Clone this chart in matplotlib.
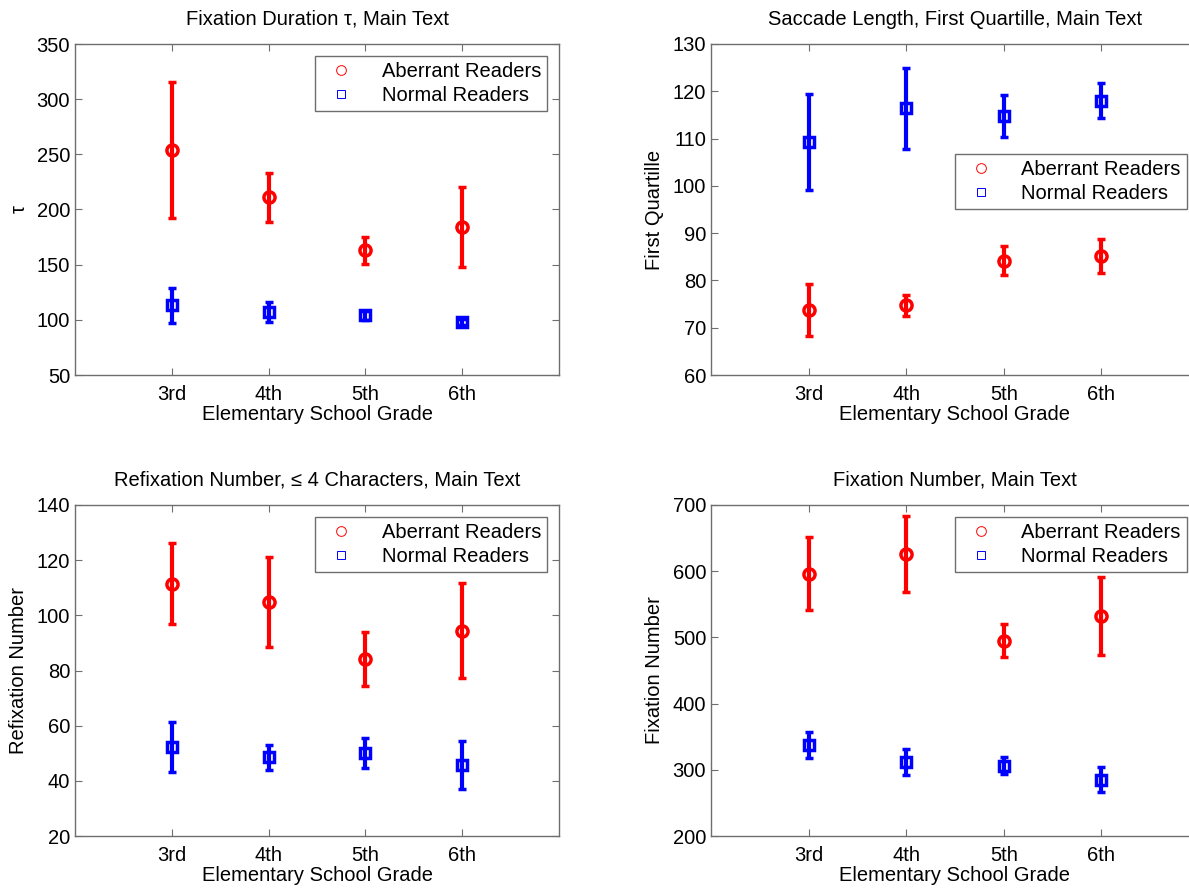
import numpy as np
import matplotlib
matplotlib.use("Agg")
import matplotlib.pyplot as plt
from matplotlib.lines import Line2D

plt.rcParams["font.family"] = ["Liberation Sans", "DejaVu Sans"]

# Data (mean, half-length of error bar)
GRADES = [3, 4, 5, 6]
GRADE_LABELS = ["3rd", "4th", "5th", "6th"]

tau_aberrant = [254, 211, 163, 184]
tau_aberrant_err = [62, 22, 12.5, 36]
tau_normal = [113, 107, 104, 98]
tau_normal_err = [16, 9, 4, 3]

quart_aberrant = [73.7, 74.7, 84.2, 85.1]
quart_aberrant_err = [5.5, 2.2, 3.1, 3.6]
quart_normal = [109.3, 116.4, 114.8, 118.0]
quart_normal_err = [10.2, 8.6, 4.4, 3.7]

refix_aberrant = [111.5, 104.8, 84.2, 94.5]
refix_aberrant_err = [14.8, 16.2, 9.7, 17.3]
refix_normal = [52.2, 48.5, 50.2, 45.8]
refix_normal_err = [9.0, 4.5, 5.4, 8.6]

fixnum_aberrant = [596, 626, 495, 532]
fixnum_aberrant_err = [55, 57, 24.5, 59]
fixnum_normal = [337, 312, 306, 285]
fixnum_normal_err = [19.5, 19.5, 12.8, 18.8]

RED = "#ff0000"
BLUE = "#0000ff"
SPINE = "#6e6e6e"
FS = 14.5

W, H = 1189, 888


def px_axes(fig, x0, y0, x1, y1):
    return fig.add_axes([x0 / W, 1 - y1 / H, (x1 - x0) / W, (y1 - y0) / H])


def draw_panel(ax, ab, ab_err, nr, nr_err, ylim, yticks, title, ylabel,
               legend_loc, legend_anchor=None):
    ax.errorbar(GRADES, ab, yerr=ab_err, fmt="o", color=RED, ecolor=RED,
                elinewidth=3, capsize=3, capthick=2.5, markersize=8,
                markerfacecolor="none", markeredgewidth=2.5)
    ax.errorbar(GRADES, nr, yerr=nr_err, fmt="s", color=BLUE, ecolor=BLUE,
                elinewidth=3, capsize=3, capthick=2.5, markersize=7,
                markerfacecolor="none", markeredgewidth=2.5)
    ax.set_xlim(2, 7)
    ax.set_ylim(*ylim)
    ax.set_xticks(GRADES)
    ax.set_xticklabels(GRADE_LABELS)
    ax.set_yticks(yticks)
    ax.tick_params(direction="in", length=5, width=0.8, color=SPINE,
                   top=True, right=True, labelsize=FS)
    ax.tick_params(axis="x", pad=7)
    ax.tick_params(axis="y", pad=3.5)
    for s in ax.spines.values():
        s.set_color(SPINE)
        s.set_linewidth(1.0)
    ax.set_title(title, fontsize=FS, pad=14)
    ax.set_xlabel("Elementary School Grade", fontsize=FS, labelpad=1)
    ax.set_ylabel(ylabel, fontsize=FS, labelpad=6)

    handles = [
        Line2D([], [], linestyle="none", marker="o", markersize=7,
               markerfacecolor="none", markeredgecolor=RED,
               markeredgewidth=0.7),
        Line2D([], [], linestyle="none", marker="s", markersize=6,
               markerfacecolor="none", markeredgecolor=BLUE,
               markeredgewidth=0.7),
    ]
    kw = dict(loc=legend_loc, fontsize=FS, fancybox=False, framealpha=1,
              edgecolor=SPINE, handletextpad=1.0, borderpad=0.3,
              labelspacing=0.25, handlelength=2.0, borderaxespad=0.6)
    if legend_anchor is not None:
        kw["bbox_to_anchor"] = legend_anchor
    leg = ax.legend(handles, ["Aberrant Readers", "Normal Readers"], **kw)
    leg.get_frame().set_linewidth(1.0)


fig = plt.figure(figsize=(W / 100, H / 100), dpi=100)

ax1 = px_axes(fig, 75, 44, 559, 375)
draw_panel(ax1, tau_aberrant, tau_aberrant_err, tau_normal, tau_normal_err,
           (50, 350), np.arange(50, 351, 50),
           "Fixation Duration \u03c4, Main Text", "\u03c4", "upper right")

ax2 = px_axes(fig, 711, 44, 1199, 375)
draw_panel(ax2, quart_aberrant, quart_aberrant_err, quart_normal,
           quart_normal_err, (60, 130), np.arange(60, 131, 10),
           "Saccade Length, First Quartille, Main Text", "First Quartille",
           "center right", (1.0, 0.585))

ax3 = px_axes(fig, 75, 505, 559, 836)
draw_panel(ax3, refix_aberrant, refix_aberrant_err, refix_normal,
           refix_normal_err, (20, 140), np.arange(20, 141, 20),
           "Refixation Number, \u2264 4 Characters, Main Text",
           "Refixation Number", "upper right")

ax4 = px_axes(fig, 711, 505, 1199, 836)
draw_panel(ax4, fixnum_aberrant, fixnum_aberrant_err, fixnum_normal,
           fixnum_normal_err, (200, 700), np.arange(200, 701, 100),
           "Fixation Number, Main Text", "Fixation Number", "upper right")

fig.savefig("out.png", dpi=100)
